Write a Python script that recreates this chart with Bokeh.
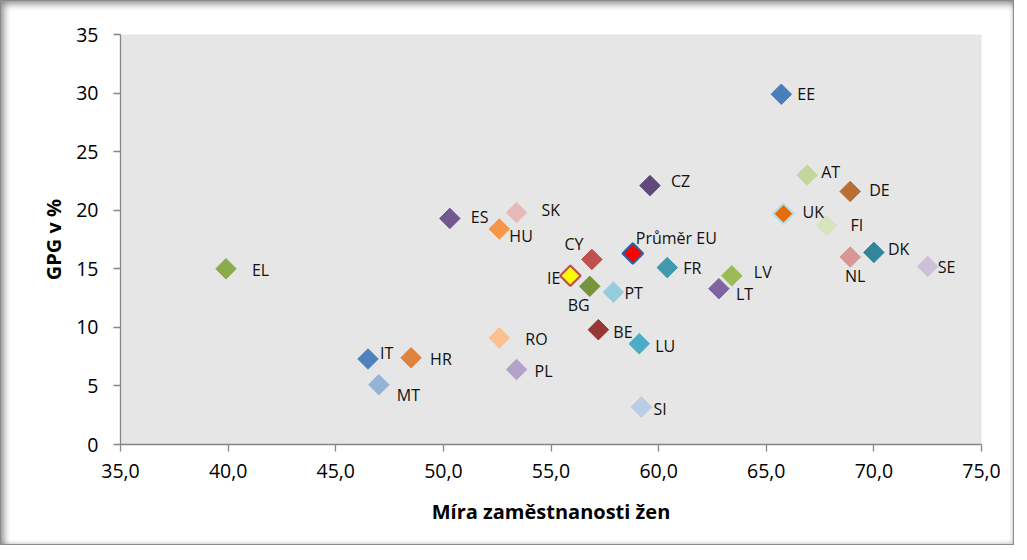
import math
from bokeh.plotting import figure
from bokeh.models import ColumnDataSource, Range1d, FixedTicker
from bokeh.core.properties import value
from bokeh.embed import file_html
from bokeh.resources import INLINE

# ---- data ----
countries = ["EE", "AT", "DE", "UK", "FI", "DK", "NL", "SE", "LV", "LT",
             "CZ", "ES", "SK", "HU", "CY", "Průměr EU", "FR", "IE", "BG", "PT",
             "BE", "LU", "RO", "PL", "IT", "HR", "MT", "SI", "EL"]
employment = [65.7, 66.9, 68.9, 65.8, 67.8, 70.0, 68.9, 72.5, 63.4, 62.8,
              59.6, 50.3, 53.4, 52.6, 56.9, 58.8, 60.4, 55.9, 56.8, 57.9,
              57.2, 59.1, 52.6, 53.4, 46.5, 48.5, 47.0, 59.2, 39.9]
gpg = [29.9, 23.0, 21.6, 19.7, 18.7, 16.4, 16.0, 15.2, 14.4, 13.3,
       22.1, 19.3, 19.8, 18.4, 15.8, 16.3, 15.1, 14.4, 13.5, 13.0,
       9.8, 8.6, 9.1, 6.4, 7.3, 7.4, 5.1, 3.2, 15.0]
x_ticks = [35, 40, 45, 50, 55, 60, 65, 70, 75]
x_tick_labels = ["35,0", "40,0", "45,0", "50,0", "55,0", "60,0", "65,0", "70,0", "75,0"]
y_ticks = [0, 5, 10, 15, 20, 25, 30, 35]

# ---- styles (colours, label placement) ----
fill_colors = ["#4a7ebb", "#c3d69b", "#b96f34", "#e46c0a", "#d7e4bd", "#31859c", "#d99694", "#ccc1da", "#9bbb59", "#8064a2",
               "#604a7b", "#71588f", "#e6b9b8", "#f79646", "#c0504d", "#ff0000", "#4198af", "#ffff00", "#77933c", "#93cddd",
               "#953735", "#4bacc6", "#fac090", "#b3a2c7", "#4f81bd", "#e0823d", "#95b3d7", "#b9cde5", "#8aac4f"]
line_colors = list(fill_colors)
line_widths = [1] * len(fill_colors)
for name, col in (("UK", "#b7dee8"), ("Průměr EU", "#2e5f9e"), ("IE", "#c0504d")):
    i = countries.index(name)
    line_colors[i] = col
    line_widths[i] = 2.2

label_dx = [16, 14, 19, 19, 24, 14, 5, 10, 22, 17,
            21, 21, 25, 10, -18, 3, 16, -10, -11, 11,
            15, 16, 26, 18, 12, 19, 18, 12, 26]
label_dy = [0, -3, -1, -2, 0, -3, 19, 1, -4, 5,
            -5, -1, -3, 7, -15, -16, 0, 2, 19, 1,
            2, 2, 1, 1, -6, 1, 10, 2, 1]
label_align = ["left"] * len(countries)
for name, al in (("NL", "center"), ("CY", "center"), ("IE", "right"), ("BG", "center")):
    label_align[countries.index(name)] = al

src = ColumnDataSource(dict(x=employment, y=gpg, name=countries, fc=fill_colors,
                            lc=line_colors, lw=line_widths, dx=label_dx, dy=label_dy,
                            al=label_align))

FONT = "Open Sans"

p = figure(width=1014, height=545, output_backend="svg", toolbar_location=None,
           x_range=Range1d(35, 75), y_range=Range1d(0, 35),
           min_border_left=120, min_border_right=33, min_border_top=34, min_border_bottom=101)
p.background_fill_color = "#e6e6e6"
p.border_fill_color = None
p.outline_line_color = None
p.xgrid.visible = False
p.ygrid.visible = False
p.styles = {"box-shadow": "inset 0 0 0 1px #8a8a8a, inset 6px 6px 7px -2px rgba(0,0,0,0.45), inset -3px -3px 5px -2px rgba(0,0,0,0.30)",
            "background-color": "white"}

p.scatter("x", "y", source=src, marker="square", angle=math.pi / 4, size=14.5,
          fill_color="fc", line_color="lc", line_width="lw")
p.text("x", "y", text="name", source=src, x_offset="dx", y_offset="dy",
       text_align="al", text_baseline="middle", text_font=value(FONT),
       text_font_size="16px", text_color="#111111")

for ax in (p.xaxis[0], p.yaxis[0]):
    ax.axis_line_color = "#868686"
    ax.axis_line_width = 1.3
    ax.major_tick_line_color = "#868686"
    ax.major_tick_line_width = 1.3
    ax.major_tick_in = 0
    ax.major_tick_out = 7
    ax.minor_tick_line_color = None
    ax.major_label_text_font = FONT
    ax.major_label_text_font_size = "19.5px"
    ax.major_label_text_color = "#000000"
    ax.axis_label_text_font = FONT
    ax.axis_label_text_font_style = "bold"
    ax.axis_label_text_font_size = "20px"
    ax.axis_label_text_color = "#000000"

p.xaxis.ticker = FixedTicker(ticks=x_ticks)
p.xaxis.major_label_overrides = {t: l for t, l in zip(x_ticks, x_tick_labels)}
p.yaxis.ticker = FixedTicker(ticks=y_ticks)
p.xaxis.axis_label = "Míra zaměstnanosti žen"
p.yaxis.axis_label = "GPG v %"
p.xaxis.major_label_standoff = 12
p.xaxis.axis_label_standoff = 17
p.yaxis.major_label_standoff = 15
p.yaxis.axis_label_standoff = 6

open("out.html", "w").write(file_html(p, INLINE))
